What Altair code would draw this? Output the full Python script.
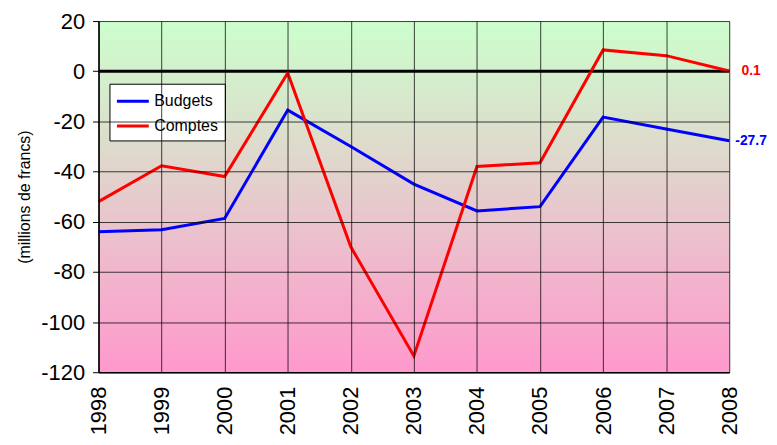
import altair as alt
import pandas as pd

years = [1998, 1999, 2000, 2001, 2002, 2003, 2004, 2005, 2006, 2007, 2008]
budgets = [-64.0, -63.2, -58.7, -15.5, -30.0, -45.0, -55.7, -54.0, -18.3, -23.0, -27.7]
comptes = [-52.0, -37.7, -42.0, -0.7, -70.0, -113.5, -38.0, -36.5, 8.5, 6.2, 0.1]
series = ["Budgets", "Comptes"]
colors = ["#0000FF", "#FF0000"]
y_ticks = [20, 0, -20, -40, -60, -80, -100, -120]

rows = []
for y, b, c in zip(years, budgets, comptes):
    rows.append({"year": y, "value": b, "series": "Budgets"})
    rows.append({"year": y, "value": c, "series": "Comptes"})
df = pd.DataFrame(rows)

end_df = pd.DataFrame({
    "year": [years[-1], years[-1]],
    "value": [budgets[-1], comptes[-1]],
    "series": series,
    "label": [f"{budgets[-1]:.1f}", f"{comptes[-1]:.1f}"],
})

FONT = "Liberation Sans"

xscale = alt.Scale(domain=[1998, 2008], nice=False, zero=False)
yscale = alt.Scale(domain=[-120, 20], nice=False, zero=False)

x_axis = alt.Axis(values=years, labelExpr="datum.value + ''", labelAngle=270,
                  labelAlign="right", labelBaseline="middle", labelFontSize=22,
                  labelPadding=14, tickSize=0, grid=True, gridColor="#000000",
                  gridOpacity=0.75, domainColor="#000000", domainWidth=1.5,
                  title=None, labelColor="#000000", labelFont=FONT, zindex=1)
y_axis = alt.Axis(values=y_ticks, labelExpr="datum.value + ''", labelFontSize=22,
                  labelPadding=8, tickSize=6, tickColor="#000000", grid=True,
                  gridColor="#000000", gridOpacity=0.75, domainColor="#000000",
                  domainWidth=1.5,
                  title="(millions de francs)", titleFontSize=16,
                  titleFontWeight="normal", titlePadding=8, titleFont=FONT,
                  titleColor="#000000",
                  labelColor="#000000", labelFont=FONT, zindex=1)

bg = alt.Chart(pd.DataFrame({"a": [0]})).mark_rect(
    fill=alt.Gradient(
        gradient="linear", x1=0, x2=0, y1=0, y2=1,
        stops=[alt.GradientStop(offset=0, color="#CCFFCC"),
               alt.GradientStop(offset=1, color="#FF99CC")],
    )
).encode(
    x=alt.datum(1998, scale=xscale, axis=x_axis, type="quantitative"),
    x2=alt.datum(2008),
    y=alt.datum(20, scale=yscale, axis=y_axis, type="quantitative"),
    y2=alt.datum(-120),
)

zero = alt.Chart(pd.DataFrame({"a": [0]})).mark_rule(
    color="#000000", strokeWidth=3
).encode(y=alt.datum(0, type="quantitative"))

lines = alt.Chart(df).mark_line(strokeWidth=3).encode(
    x=alt.X("year:Q"),
    y=alt.Y("value:Q"),
    color=alt.Color(
        "series:N",
        scale=alt.Scale(domain=series, range=colors),
        legend=alt.Legend(
            title=None, orient="none", legendX=11, legendY=63,
            symbolType="M-1,0L2.2,0", symbolSize=400, symbolStrokeWidth=3,
            labelFontSize=16, labelFont=FONT, labelColor="#000000",
            fillColor="#FFFFFF", strokeColor="#000000", padding=6,
            rowPadding=5, labelOffset=16,
        ),
    ),
)

labels = alt.Chart(end_df).mark_text(
    align="center", baseline="middle", dx=22, fontSize=14, fontWeight="bold",
    font=FONT
).encode(
    x="year:Q",
    y="value:Q",
    text="label:N",
    color=alt.Color("series:N", scale=alt.Scale(domain=series, range=colors), legend=None),
)

chart = alt.layer(bg, zero, lines, labels).properties(
    width=634, height=353,
    padding={"left": 91, "top": 12, "right": 40, "bottom": 64},
    autosize=alt.AutoSizeParams(type="none"),
).configure_view(stroke="#000000", strokeWidth=1.5).configure(
    font=FONT
)

chart.save("out.html", embed_options={"renderer": "svg", "actions": False})
